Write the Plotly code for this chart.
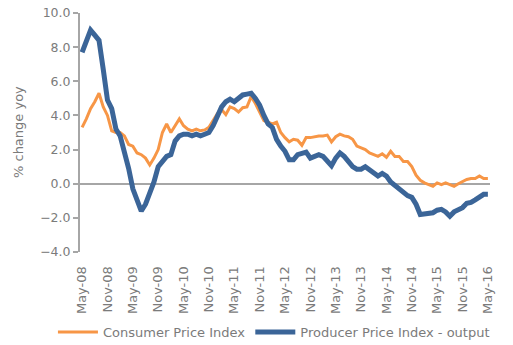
import pandas as pd
import plotly.graph_objects as go

# Monthly categories, May 2008 to May 2016
months = [d.strftime("%b-%y") for d in pd.date_range("2008-05-01", "2016-05-01", freq="MS")]

# Consumer Price Index, % change year on year
cpi = [3.3, 3.8, 4.4, 4.8, 5.3, 4.5, 4.0, 3.1, 3.0, 3.0,
       2.8, 2.3, 2.2, 1.8, 1.7, 1.5, 1.1, 1.5, 2.0, 3.0,
       3.5, 3.0, 3.4, 3.8, 3.4, 3.2, 3.1, 3.2, 3.1, 3.15,
       3.3, 3.7, 4.1, 4.35, 4.05, 4.5, 4.4, 4.2, 4.45, 4.5,
       5.1, 4.7, 4.2, 3.7, 3.6, 3.5, 3.6, 3.0, 2.7, 2.45,
       2.6, 2.55, 2.25, 2.7, 2.7, 2.75, 2.8, 2.8, 2.85, 2.45,
       2.75, 2.9, 2.8, 2.75, 2.6, 2.2, 2.1, 2.0, 1.8, 1.7,
       1.6, 1.75, 1.55, 1.9, 1.6, 1.6, 1.3, 1.3, 1.0, 0.5,
       0.2, 0.05, -0.05, -0.15, 0.05, -0.05, 0.05, -0.05, -0.15, 0.0,
       0.15, 0.25, 0.3, 0.3, 0.45, 0.3, 0.3]

# Producer Price Index - output, % change year on year
ppi = [7.7, 8.4, 9.0, 8.7, 8.4, 6.7, 4.9, 4.4, 3.2, 2.8,
       1.9, 0.9, -0.3, -0.9, -1.6, -1.2, -0.6, 0.1, 1.0, 1.3,
       1.6, 1.7, 2.5, 2.8, 2.9, 2.9, 2.8, 2.9, 2.8, 2.9,
       3.0, 3.4, 4.0, 4.5, 4.8, 4.95, 4.8, 5.0, 5.2, 5.25,
       5.3, 5.0, 4.6, 4.0, 3.5, 3.3, 2.6, 2.2, 1.9, 1.4,
       1.4, 1.7, 1.8, 1.85, 1.5, 1.6, 1.7, 1.6, 1.3, 1.05,
       1.5, 1.8, 1.6, 1.3, 1.0, 0.85, 0.85, 1.0, 0.8, 0.6,
       0.45, 0.6, 0.45, 0.1, -0.1, -0.25, -0.5, -0.7, -0.8, -1.2,
       -1.8, -1.75, -1.7, -1.7, -1.55, -1.5, -1.65, -1.9, -1.65, -1.5,
       -1.4, -1.15, -1.1, -0.95, -0.75, -0.62, -0.62]

# Labelled months on the category axis
tick_labels = ["May-08", "Nov-08", "May-09", "Nov-09", "May-10", "Nov-10",
               "May-11", "Nov-11", "May-12", "Nov-12", "May-13", "Nov-13",
               "May-14", "Nov-14", "May-15", "Nov-15", "May-16"]

y_ticks = [-4, -2, 0, 2, 4, 6, 8, 10]

FONT = "DejaVu Sans"
GREY_TEXT = "#7b7b7b"
GREY_LINE = "#a6a6a6"

fig = go.Figure()
fig.add_trace(go.Scatter(
    x=months, y=cpi, mode="lines", name="Consumer Price Index",
    line=dict(color="#f79646", width=3),
))
fig.add_trace(go.Scatter(
    x=months, y=ppi, mode="lines", name="Producer Price Index - output",
    line=dict(color="#3b6598", width=5),
))

fig.update_layout(
    width=513, height=345,
    margin=dict(l=80, r=23, t=13, b=93, autoexpand=False),
    paper_bgcolor="white", plot_bgcolor="white",
    font=dict(family=FONT, color=GREY_TEXT, size=13),
    showlegend=True,
    legend=dict(
        orientation="h", x=-0.066, xanchor="left", y=-0.335, yanchor="middle",
        font=dict(family=FONT, size=13, color=GREY_TEXT),
        itemwidth=40, tracegroupgap=0,
    ),
    annotations=[dict(
        text="% change yoy", textangle=-90, showarrow=False,
        xref="paper", yref="paper", x=-0.15, y=0.5,
        xanchor="center", yanchor="middle",
        font=dict(family=FONT, size=13, color=GREY_TEXT),
    )],
)

fig.update_xaxes(
    type="category", categoryorder="array", categoryarray=months,
    range=[-0.5, len(months) - 0.5],
    tickmode="array", tickvals=tick_labels, ticktext=tick_labels,
    tickangle=-90, tickfont=dict(family=FONT, size=13, color=GREY_TEXT),
    showline=False, showgrid=False, zeroline=False,
    ticks="outside", ticklen=8, tickcolor="rgba(0,0,0,0)",
)

fig.update_yaxes(
    range=[-4, 10], tickmode="array", tickvals=y_ticks, tickformat=".1f",
    tickfont=dict(family=FONT, size=12.5, color=GREY_TEXT),
    showline=True, linecolor=GREY_LINE, linewidth=2,
    ticks="outside", ticklen=5, tickwidth=1.5, tickcolor=GREY_LINE,
    showgrid=False,
    zeroline=True, zerolinecolor=GREY_LINE, zerolinewidth=2,
)

fig.write_html("out.html")
